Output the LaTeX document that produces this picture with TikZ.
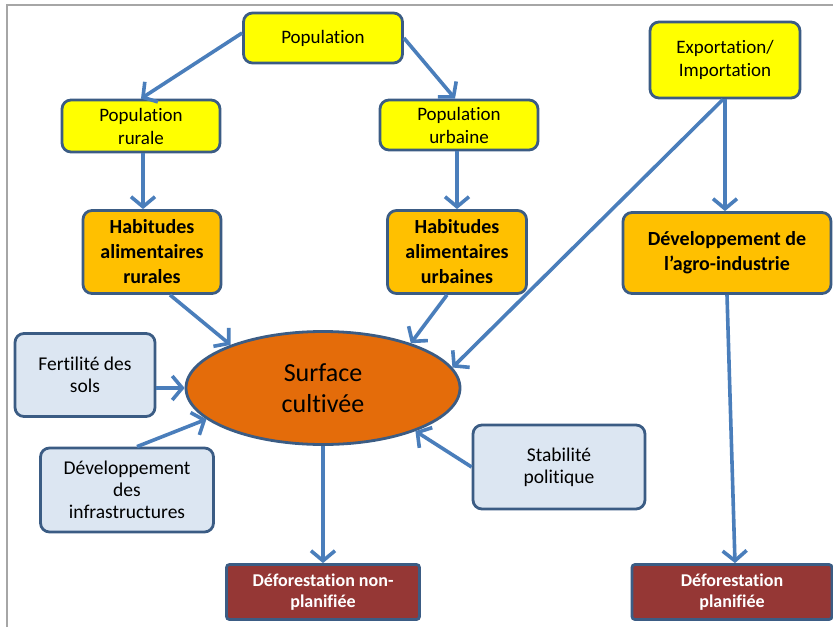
\documentclass[tikz,border=0pt]{standalone}
\usepackage{fontspec}
\setmainfont[Ligatures=NoCommon]{Carlito}
\usepackage{xcolor}
\definecolor{jaune}{HTML}{FFFF00}
\definecolor{ambre}{HTML}{FFC000}
\definecolor{bleupale}{HTML}{DCE6F2}
\definecolor{orangefonce}{HTML}{E46C0A}
\definecolor{bordeaux}{HTML}{953735}
\definecolor{contour}{HTML}{3B5C84}
\definecolor{fleche}{HTML}{4A7EBB}
\usepackage{tikz}
\usetikzlibrary{positioning,arrows.meta,calc,shapes.geometric}

\begin{document}
\begin{tikzpicture}[x=1pt,y=-1pt,
  boite/.style={draw=contour,line width=2.8pt,rounded corners=9pt,align=center,inner sep=2pt},
  boitejaune/.style={boite,fill=jaune,font=\fontsize{19}{23}\selectfont},
  boiteambre/.style={boite,fill=ambre,font=\bfseries\fontsize{20}{25}\selectfont},
  boitebleue/.style={boite,fill=bleupale,font=\fontsize{19.5}{22}\selectfont},
  boiterouge/.style={boite,rounded corners=3pt,fill=bordeaux,text=white,font=\bfseries\fontsize{18}{21}\selectfont},
  fl/.style={-{Straight Barb[length=10pt,width=24pt]},fleche,line width=3.6pt}
]
\useasboundingbox (0,0) rectangle (833,627);
\draw[gray!70,line width=1.2pt] (7,627) -- (7,5) -- (833,5);

% population
\node[boitejaune,minimum width=159pt,minimum height=50pt] (pop) at (323,38) {Population};
\node[boitejaune,minimum width=158pt,minimum height=52pt] (poprur) at (141,126) {Population\\rurale};
\node[boitejaune,minimum width=158pt,minimum height=50pt] (popurb) at (459,125) {Population\\urbaine};
\node[boitejaune,minimum width=150pt,minimum height=76pt] (export) at (725,60) {Exportation/\\Importation};

% habitudes et agro-industrie
\node[boiteambre,minimum width=138pt,minimum height=83pt] (habrur) at (152,252) {Habitudes\\alimentaires\\rurales};
\node[boiteambre,minimum width=139pt,minimum height=83pt] (haburb) at (457,252) {Habitudes\\alimentaires\\urbaines};
\node[boiteambre,minimum width=208pt,minimum height=81pt] (devagro) at (727,253) {Développement de\\l’agro-industrie};

% surface cultivee
\node[ellipse,draw=contour,line width=2.8pt,fill=orangefonce,minimum width=274pt,minimum height=113pt,
  inner sep=0pt,align=center,font=\fontsize{26}{31}\selectfont] (surf) at (323,388) {Surface\\cultivée};
\node[boitebleue,minimum width=140pt,minimum height=83pt] (fert) at (85,375) {Fertilité des\\sols};
\node[boitebleue,minimum width=173pt,minimum height=84pt] (infra) at (127,490) {Développement\\des\\infrastructures};
\node[boitebleue,minimum width=172pt,minimum height=84pt] (stab) at (559,467) {Stabilité\\politique};

% deforestation
\node[boiterouge,minimum width=193pt,minimum height=55pt] (defnp) at (323,592) {Déforestation non-\\planifiée};
\node[boiterouge,minimum width=200pt,minimum height=55pt] (defp) at (732,592) {Déforestation\\planifiée};

\draw[fl] ([yshift=5pt]pop.west) -- (poprur.north);
\draw[fl] (pop.east) -- ([xshift=-4pt]popurb.north);
\draw[fl] ([xshift=2pt]poprur.south) -- ([xshift=2pt]poprur.south |- habrur.north);
\draw[fl] ([xshift=-2pt]popurb.south) -- ([xshift=-2pt]popurb.south |- haburb.north);
\draw[fl] (export.south) -- (export.south |- devagro.north);
\draw[fl] ([xshift=-2pt]export.south) -- (surf.9);
\draw[fl] ([xshift=18pt]habrur.south) -- (surf.155);
\draw[fl] ([xshift=-10pt]haburb.south) -- (surf.27);
\draw[fl] (fert.east |- surf.west) -- (surf.west);
\draw[fl] ([xshift=10pt]infra.north) -- (surf.195);
\draw[fl] (stab.west) -- (surf.-25);
\draw[fl] (surf.south) -- (defnp.north);
\draw[fl] (devagro.south) -- ([xshift=3pt]defp.north);
\end{tikzpicture}
\end{document}
